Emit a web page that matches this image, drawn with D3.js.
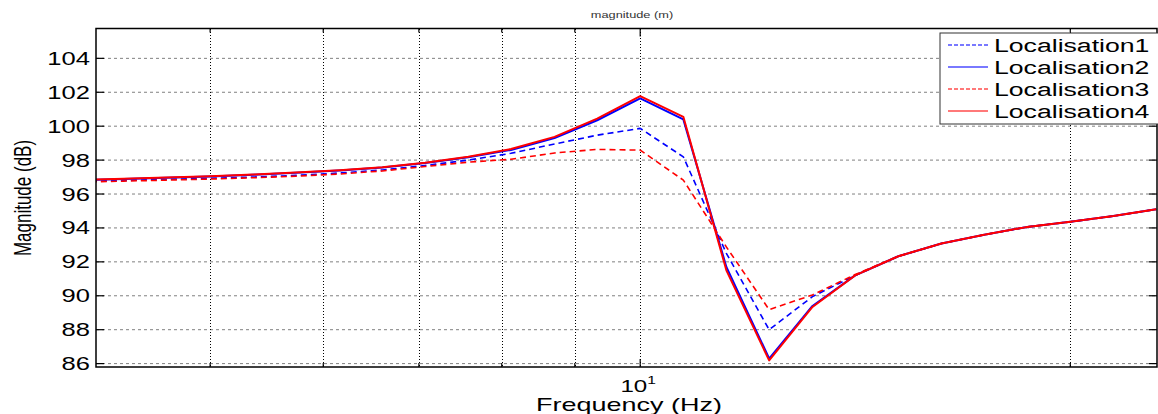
<!DOCTYPE html>
<html>
<head>
<meta charset="utf-8">
<script src="https://cdn.jsdelivr.net/npm/d3@7"></script>
<style>
  body { margin: 0; background: #fff; }
  svg { display: block; }
  text { font-family: "Liberation Sans", Arial, sans-serif; }
</style>
</head>
<body>
<div id="chart"></div>
<script>
// frequencies (Hz), 1/10 octave steps
var freqs = [4.06, 4.35, 4.66, 5.0, 5.36, 5.74, 6.16, 6.60, 7.07, 7.58, 8.12, 8.71, 9.33, 10.0,
             10.72, 11.49, 12.31, 13.20, 14.14, 15.16, 16.25, 17.41, 18.66, 20.0, 21.44, 22.97];

var loc1 = [96.74, 96.80, 96.86, 96.93, 97.00, 97.10, 97.24, 97.42, 97.68, 98.00, 98.40, 98.95, 99.47, 99.87,
            98.19, 92.50, 88.00, 89.95, 91.20, 92.33, 93.08, 93.60, 94.06, 94.36, 94.70, 95.10];
var loc2 = [96.82, 96.89, 96.96, 97.04, 97.14, 97.26, 97.39, 97.56, 97.83, 98.17, 98.60, 99.30, 100.35, 101.64,
            100.40, 91.70, 86.30, 89.40, 91.20, 92.33, 93.08, 93.60, 94.06, 94.36, 94.70, 95.10];
var loc3 = [96.70, 96.76, 96.82, 96.88, 96.96, 97.05, 97.18, 97.36, 97.62, 97.88, 98.05, 98.42, 98.63, 98.59,
            96.82, 92.88, 89.18, 90.05, 91.25, 92.33, 93.08, 93.60, 94.06, 94.36, 94.70, 95.10];
var loc4 = [96.83, 96.90, 96.97, 97.05, 97.15, 97.27, 97.40, 97.58, 97.85, 98.20, 98.65, 99.37, 100.45, 101.77,
            100.55, 91.50, 86.19, 89.34, 91.20, 92.33, 93.08, 93.60, 94.06, 94.36, 94.70, 95.10];

var seriesNames = ["Localisation1", "Localisation2", "Localisation3", "Localisation4"];
var seriesColors = ["#0000ff", "#0000ff", "#ff0000", "#ff0000"];
var seriesDashed = [true, false, true, false];

var yTicks = [86, 88, 90, 92, 94, 96, 98, 100, 102, 104];
var xGridTicks = [5, 6, 7, 8, 9, 10, 20];

var W = 1158, H = 414;
var margin = { top: 28.5, right: 1, bottom: 47, left: 96 };
var width = W - margin.left - margin.right,
    height = H - margin.top - margin.bottom;
var sx = 1.42; // text in the picture is stretched horizontally

var svg = d3.select("#chart").append("svg").attr("width", W).attr("height", H);

var x = d3.scaleLog().domain([4.16, 23.0]).range([0, width]);
var y = d3.scaleLinear().domain([85.8, 105.76]).range([height, 0]);

svg.append("defs").append("clipPath")
    .attr("id", "clip")
    .append("rect")
    .attr("width", width)
    .attr("height", height);

var g = svg.append("g").attr("transform", "translate(" + margin.left + "," + margin.top + ")");

// horizontal grid
g.append("g").selectAll("line")
    .data(yTicks)
    .enter().append("line")
    .attr("x1", 0).attr("x2", width)
    .attr("y1", function(d) { return y(d); })
    .attr("y2", function(d) { return y(d); })
    .attr("stroke", "#808080")
    .attr("stroke-width", 1)
    .attr("stroke-dasharray", "3,3");

// vertical grid (dark dotted)
g.append("g").selectAll("line")
    .data(xGridTicks)
    .enter().append("line")
    .attr("x1", function(d) { return Math.round(x(d)) + 0.5; })
    .attr("x2", function(d) { return Math.round(x(d)) + 0.5; })
    .attr("y1", 0).attr("y2", height)
    .attr("stroke", "#000")
    .attr("stroke-width", 1.6)
    .attr("stroke-dasharray", "1.5,1.5")
    .attr("shape-rendering", "crispEdges");

// tick marks (inward, both sides)
var tk = g.append("g").attr("stroke", "#000").attr("stroke-width", 1.2);
yTicks.forEach(function(v) {
    tk.append("line").attr("x1", 0).attr("x2", 8).attr("y1", y(v)).attr("y2", y(v));
    tk.append("line").attr("x1", width).attr("x2", width - 8).attr("y1", y(v)).attr("y2", y(v));
});
xGridTicks.forEach(function(v) {
    var len = v === 10 ? 8 : 4;
    tk.append("line").attr("x1", x(v)).attr("x2", x(v)).attr("y1", height).attr("y2", height - len);
    tk.append("line").attr("x1", x(v)).attr("x2", x(v)).attr("y1", 0).attr("y2", len);
});

// y tick labels
g.append("g").selectAll("text")
    .data(yTicks)
    .enter().append("text")
    .attr("transform", function(d) { return "translate(-6," + (y(d) + 6.5) + ") scale(" + sx + ",1)"; })
    .attr("text-anchor", "end")
    .style("font-size", "18px")
    .attr("fill", "#000")
    .text(function(d) { return d; });

// x tick label 10^1
var xl = g.append("text")
    .attr("transform", "translate(" + (x(10) - 2) + "," + (height + 25) + ") scale(" + sx + ",1)")
    .attr("text-anchor", "middle")
    .style("font-size", "17px")
    .attr("fill", "#000");
xl.append("tspan").text("10");
xl.append("tspan").attr("dy", -8).style("font-size", "11px").text("1");

// series
var line = d3.line()
    .x(function(d, i) { return x(freqs[i]); })
    .y(function(d) { return y(d); });

var allSeries = [loc1, loc2, loc3, loc4];
var lines = g.append("g").attr("clip-path", "url(#clip)");
allSeries.forEach(function(s, i) {
    lines.append("path")
        .datum(s)
        .attr("d", line)
        .attr("fill", "none")
        .attr("stroke", seriesColors[i])
        .attr("stroke-width", seriesDashed[i] ? 1.6 : 2)
        .attr("stroke-dasharray", seriesDashed[i] ? "6,4" : null)
        .attr("stroke-linejoin", "round");
});

// frame
g.append("rect")
    .attr("width", width).attr("height", height)
    .attr("fill", "none")
    .attr("stroke", "#000")
    .attr("stroke-width", 1.5);

// legend
var lg = g.append("g").attr("transform", "translate(" + (940 - margin.left) + "," + (33 - margin.top) + ")");
lg.append("rect")
    .attr("width", 230).attr("height", 91)
    .attr("fill", "#fff")
    .attr("stroke", "#333")
    .attr("stroke-width", 1);
seriesNames.forEach(function(name, i) {
    var cy = 12 + i * 22;
    lg.append("line")
        .attr("x1", 8).attr("x2", 48)
        .attr("y1", cy).attr("y2", cy)
        .attr("stroke", seriesColors[i])
        .attr("stroke-opacity", 0.7)
        .attr("stroke-width", 1.6)
        .attr("stroke-dasharray", seriesDashed[i] ? "4,2" : null);
    lg.append("text")
        .attr("transform", "translate(54," + (cy + 7) + ") scale(" + 1.48 + ",1)")
        .style("font-size", "18px")
        .attr("fill", "#000")
        .text(name);
});

// title
svg.append("text")
    .attr("transform", "translate(632,18) scale(" + sx + ",1)")
    .attr("text-anchor", "middle")
    .style("font-size", "9px")
    .attr("fill", "#333")
    .text("magnitude (m)");

// axis labels
svg.append("text")
    .attr("transform", "translate(629,411) scale(" + sx + ",1)")
    .attr("text-anchor", "middle")
    .style("font-size", "19px")
    .attr("fill", "#000")
    .text("Frequency (Hz)");

svg.append("text")
    .attr("transform", "translate(31,198) scale(" + sx + ",1) rotate(-90)")
    .attr("text-anchor", "middle")
    .style("font-size", "17px")
    .attr("fill", "#000")
    .text("Magnitude (dB)");
</script>
</body>
</html>
